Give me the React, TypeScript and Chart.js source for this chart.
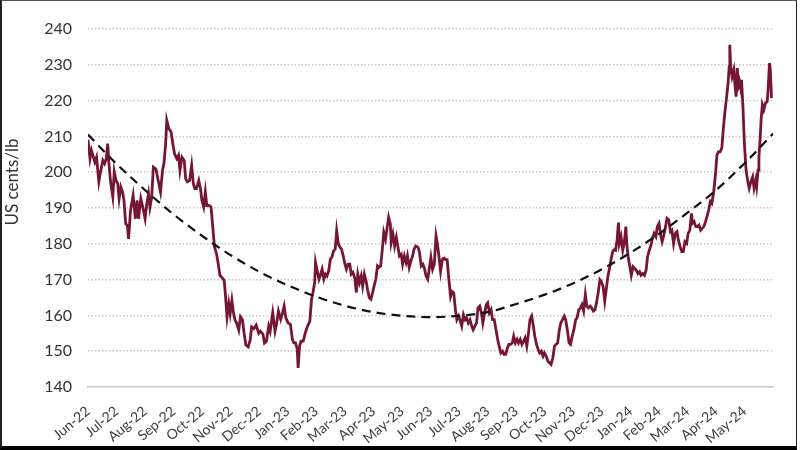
import { useEffect, useRef } from "react"
import { Chart, registerables } from "chart.js"

Chart.register(...registerables)

// Month tick labels, one per month starting Jun-22 (x = month index)
const monthLabels = [
  "Jun-22", "Jul-22", "Aug-22", "Sep-22", "Oct-22", "Nov-22", "Dec-22",
  "Jan-23", "Feb-23", "Mar-23", "Apr-23", "May-23", "Jun-23", "Jul-23",
  "Aug-23", "Sep-23", "Oct-23", "Nov-23", "Dec-23", "Jan-24", "Feb-24",
  "Mar-24", "Apr-24", "May-24",
]

const Y_TITLE = "US cents/lb"

// Price readings: [month position, US cents/lb]
const prices2022: [number, number][] = [
  [0.0, 209.1], [0.07, 203.8], [0.12, 206.1], [0.24, 202.8], [0.3, 204.2], [0.38, 197.3],
  [0.44, 200.1], [0.52, 203.3], [0.58, 202.4], [0.64, 203.8], [0.69, 208.0], [0.73, 202.8],
  [0.79, 197.3], [0.87, 193.1], [0.92, 200.1], [0.98, 197.7], [1.04, 196.8], [1.09, 192.6],
  [1.15, 195.9], [1.21, 194.5], [1.26, 192.1], [1.32, 185.6], [1.38, 185.1], [1.42, 181.4],
  [1.49, 189.3], [1.58, 193.5], [1.66, 187.0], [1.72, 192.1], [1.77, 187.0], [1.85, 192.6],
  [1.92, 190.2], [2.0, 187.0], [2.06, 191.2], [2.12, 194.0], [2.17, 190.2], [2.23, 193.0],
  [2.29, 201.4], [2.38, 200.9], [2.46, 197.7], [2.54, 194.5], [2.61, 200.5], [2.66, 202.4],
  [2.72, 208.0], [2.76, 214.5], [2.83, 212.2], [2.91, 211.2], [2.97, 208.0], [3.03, 205.2],
  [3.11, 203.8], [3.17, 204.7], [3.22, 200.5], [3.29, 204.2], [3.37, 203.3], [3.42, 198.2],
  [3.48, 197.3], [3.56, 197.7], [3.63, 201.9], [3.69, 196.8], [3.74, 195.4], [3.8, 195.4],
  [3.88, 197.7], [3.94, 195.4], [3.99, 192.1], [4.05, 190.3], [4.11, 194.5], [4.16, 190.7],
  [4.24, 190.7], [4.31, 190.3], [4.37, 184.7], [4.43, 179.1], [4.5, 177.3], [4.56, 174.5],
  [4.62, 171.2], [4.68, 170.7], [4.77, 169.8], [4.81, 166.1], [4.87, 159.6], [4.93, 163.3],
  [4.98, 160.5], [5.04, 164.2], [5.1, 160.5], [5.15, 158.7], [5.21, 157.8], [5.28, 155.9],
  [5.34, 159.6], [5.41, 158.7], [5.47, 154.9], [5.53, 151.7], [5.61, 151.2], [5.68, 153.1],
  [5.73, 156.8], [5.81, 156.3], [5.89, 157.3], [5.98, 155.0], [6.04, 155.6], [6.13, 154.7],
  [6.18, 152.3], [6.25, 152.8], [6.33, 157.0], [6.38, 155.6], [6.47, 160.7], [6.55, 155.6],
  [6.61, 157.9], [6.67, 161.2], [6.75, 158.9], [6.8, 160.3], [6.87, 162.6], [6.93, 159.3],
]

const prices2023: [number, number][] = [
  [7.01, 157.9], [7.09, 157.5], [7.16, 153.3], [7.21, 152.3], [7.27, 152.3], [7.33, 150.5],
  [7.36, 145.3], [7.41, 151.4], [7.46, 152.8], [7.54, 152.8], [7.61, 155.1], [7.69, 157.0],
  [7.77, 158.4], [7.83, 164.5], [7.88, 166.4], [7.94, 169.2], [7.97, 174.8], [8.03, 172.4],
  [8.09, 170.1], [8.15, 171.5], [8.2, 172.9], [8.26, 170.1], [8.32, 171.5], [8.37, 171.0],
  [8.43, 172.4], [8.49, 175.7], [8.54, 176.2], [8.6, 178.0], [8.66, 178.5], [8.71, 183.6],
  [8.77, 179.9], [8.83, 179.0], [8.88, 178.5], [8.94, 176.6], [9.0, 174.3], [9.05, 172.9],
  [9.11, 174.3], [9.17, 174.3], [9.22, 171.5], [9.28, 172.0], [9.34, 170.6], [9.4, 166.4],
  [9.45, 171.5], [9.51, 169.2], [9.57, 171.0], [9.62, 168.2], [9.68, 171.5], [9.74, 169.6],
  [9.79, 167.3], [9.85, 165.0], [9.91, 164.5], [9.97, 166.4], [10.02, 168.2], [10.08, 170.1],
  [10.14, 173.8], [10.19, 173.4], [10.25, 173.8], [10.31, 178.5], [10.36, 183.2], [10.42, 181.3],
  [10.48, 184.6], [10.53, 187.4], [10.59, 185.5], [10.62, 180.4], [10.68, 182.7], [10.74, 179.4],
  [10.8, 181.8], [10.85, 179.4], [10.91, 176.6], [10.97, 177.1], [11.02, 174.3], [11.08, 176.6],
  [11.14, 174.8], [11.19, 176.6], [11.25, 173.4], [11.31, 175.2], [11.37, 176.6], [11.42, 178.5],
  [11.48, 179.4], [11.56, 179.0], [11.61, 177.6], [11.67, 173.8], [11.73, 174.3], [11.79, 172.9],
  [11.84, 171.0], [11.9, 170.1], [11.96, 173.4], [12.01, 176.2], [12.07, 172.9], [12.13, 174.3],
  [12.19, 182.2], [12.24, 179.9], [12.3, 176.0], [12.35, 172.3], [12.41, 175.6], [12.47, 176.0],
  [12.53, 175.6], [12.58, 175.6], [12.64, 170.0], [12.7, 165.3], [12.75, 166.7], [12.81, 166.3],
  [12.87, 161.6], [12.92, 158.8], [12.98, 159.8], [13.04, 158.4], [13.09, 157.0], [13.15, 160.2],
  [13.21, 158.8], [13.26, 159.3], [13.32, 157.9], [13.38, 158.8], [13.44, 157.0], [13.49, 156.0],
  [13.55, 157.0], [13.61, 157.9], [13.66, 162.1], [13.72, 162.6], [13.78, 160.7], [13.83, 157.9],
  [13.89, 160.7], [13.95, 163.0], [14.0, 163.5], [14.06, 160.7], [14.12, 161.6], [14.17, 158.8],
  [14.23, 158.8], [14.29, 156.0], [14.35, 153.3], [14.4, 151.4], [14.46, 149.5], [14.52, 150.0],
  [14.57, 149.1], [14.63, 149.1], [14.69, 150.9], [14.74, 151.9], [14.8, 151.9], [14.86, 152.3],
  [14.91, 154.2], [14.97, 152.3], [15.03, 153.3], [15.08, 152.3], [15.14, 153.3], [15.2, 151.9],
  [15.26, 152.8], [15.31, 153.7], [15.37, 151.4], [15.43, 155.1], [15.48, 158.8], [15.54, 159.8],
  [15.6, 157.0], [15.65, 154.2], [15.71, 151.9], [15.77, 150.5], [15.82, 149.5], [15.88, 150.0],
  [15.94, 148.6], [15.99, 149.5], [16.05, 148.6], [16.11, 147.2], [16.17, 146.7], [16.22, 146.3],
  [16.28, 148.1], [16.34, 151.4], [16.39, 151.9], [16.45, 152.3], [16.51, 156.0], [16.56, 157.9],
  [16.62, 158.8], [16.68, 159.8], [16.73, 158.8], [16.79, 156.0], [16.85, 152.3], [16.9, 151.9],
  [16.96, 154.2], [17.02, 156.0], [17.08, 158.8], [17.13, 159.3], [17.19, 161.6], [17.25, 162.1],
  [17.3, 163.0], [17.36, 161.2], [17.42, 165.8], [17.47, 162.6], [17.53, 162.1], [17.59, 162.6],
  [17.64, 162.1], [17.7, 161.2], [17.76, 161.6], [17.81, 163.5], [17.87, 166.3], [17.93, 170.0],
  [17.98, 169.5], [18.04, 168.1], [18.1, 164.0], [18.15, 167.2], [18.21, 170.9], [18.27, 173.3],
  [18.32, 175.6], [18.38, 177.9], [18.44, 178.4], [18.48, 178.2], [18.53, 181.0],
]

const prices2024: [number, number][] = [
  [18.58, 185.9], [18.61, 180.1], [18.67, 182.0], [18.73, 178.2], [18.78, 180.1], [18.84, 184.8],
  [18.87, 180.1], [18.92, 176.4], [18.98, 173.6], [19.03, 171.2], [19.09, 173.6], [19.15, 173.1],
  [19.2, 172.7], [19.26, 171.7], [19.32, 172.2], [19.37, 171.2], [19.43, 171.7], [19.49, 171.2],
  [19.55, 172.7], [19.6, 176.4], [19.66, 178.2], [19.72, 179.6], [19.77, 181.5], [19.83, 182.9],
  [19.89, 182.0], [19.94, 184.8], [20.0, 185.7], [20.06, 182.4], [20.11, 180.6], [20.17, 182.4],
  [20.23, 184.8], [20.28, 187.1], [20.34, 186.7], [20.4, 183.4], [20.45, 183.8], [20.51, 180.1],
  [20.57, 182.9], [20.63, 183.4], [20.68, 181.0], [20.74, 179.2], [20.8, 177.8], [20.85, 177.8],
  [20.91, 180.6], [20.97, 180.1], [21.02, 182.9], [21.08, 183.8], [21.14, 188.5], [21.17, 185.7],
  [21.23, 186.2], [21.29, 184.8], [21.34, 184.8], [21.4, 185.2], [21.46, 183.8], [21.51, 184.3],
  [21.57, 184.8], [21.63, 186.2], [21.68, 187.6], [21.74, 189.4], [21.8, 191.8], [21.85, 191.3],
  [21.91, 194.1], [21.97, 198.7], [22.03, 204.8], [22.08, 205.7], [22.14, 205.7], [22.2, 206.7],
  [22.25, 211.8], [22.31, 216.9], [22.37, 221.1], [22.42, 224.9], [22.46, 229.5], [22.48, 235.6],
  [22.51, 229.5], [22.56, 226.7], [22.62, 228.6], [22.65, 225.3], [22.7, 221.1], [22.74, 229.1],
  [22.79, 224.4], [22.82, 225.3], [22.86, 223.5], [22.89, 225.8], [22.94, 218.3], [22.99, 208.1],
  [23.05, 200.6], [23.11, 197.4], [23.16, 195.5], [23.22, 197.4], [23.28, 198.7], [23.33, 195.5],
  [23.39, 197.8], [23.42, 196.0], [23.47, 200.6], [23.5, 204.3], [23.54, 209.0], [23.58, 215.1],
  [23.62, 218.8], [23.67, 217.4], [23.73, 219.3], [23.79, 219.7], [23.82, 223.0], [23.87, 230.5],
  [23.9, 228.6], [23.94, 220.7],
]

// Dashed trend line, read at each month (index = month position)
const trendValues = [
  210.5, 202.3, 195.0, 188.2, 182.2, 176.8, 172.2, 168.4, 165.2, 162.7, 160.9, 159.9, 159.5,
  159.9, 160.9, 163.2, 165.8, 169.0, 172.9, 177.5, 182.8, 188.7, 195.0, 202.5, 210.8,
]

const yTitlePlugin = {
  id: "yTitle",
  afterDraw(chart: Chart) {
    const ctx = chart.ctx
    ctx.save()
    ctx.translate(13, 182)
    ctx.rotate(-Math.PI / 2)
    ctx.font = "17px Lato"
    ctx.fillStyle = "#333333"
    ctx.textAlign = "center"
    ctx.textBaseline = "middle"
    ctx.fillText(Y_TITLE, 0, 0)
    ctx.restore()
  },
}

export default function App() {
  const chartRef = useRef<HTMLCanvasElement>(null)
  const chartInstance = useRef<Chart | null>(null)

  useEffect(() => {
    if (!chartRef.current) return
    if (chartInstance.current) chartInstance.current.destroy()

    const priceData = [...prices2022, ...prices2023, ...prices2024].map(([x, y]) => ({ x, y }))
    const trendData = trendValues.map((y, i) => ({ x: i, y }))

    const ctx = chartRef.current.getContext("2d")
    if (ctx) {
      chartInstance.current = new Chart(ctx, {
        type: "line",
        data: {
          datasets: [
            {
              label: "Trend",
              data: trendData,
              borderColor: "#111111",
              borderWidth: 2.2,
              borderDash: [9, 6],
              pointRadius: 0,
              cubicInterpolationMode: "monotone",
            },
            {
              label: "Price",
              data: priceData,
              borderColor: "#761636",
              borderWidth: 2.8,
              pointRadius: 0,
              tension: 0,
            },
          ],
        },
        options: {
          animation: false,
          responsive: true,
          maintainAspectRatio: false,
          layout: { padding: { left: 0, top: 29, right: 11, bottom: 0 } },
          plugins: { legend: { display: false }, tooltip: { enabled: false } },
          scales: {
            x: {
              type: "linear",
              min: 0,
              max: 24,
              grid: { display: false, drawTicks: false },
              border: { display: true, color: "#c9c9c9", width: 1.5 },
              afterFit: (scale: any) => {
                scale.height = 63
              },
              ticks: {
                stepSize: 1,
                autoSkip: false,
                includeBounds: false,
                minRotation: 40,
                maxRotation: 40,
                padding: 16,
                color: "#404040",
                font: { family: "Lato", size: 14 },
                callback: (v: any) => monthLabels[v] ?? "",
              },
            },
            y: {
              min: 140,
              max: 240,
              grid: {
                drawTicks: false,
                lineWidth: 1.5,
                color: (c: any) => (c.tick && c.tick.value === 140 ? "rgba(0,0,0,0)" : "#c8c8c8"),
              },
              border: { display: false, dash: [1.5, 2] },
              afterFit: (scale: any) => {
                scale.width = 88
              },
              ticks: {
                stepSize: 10,
                padding: 16,
                color: "#333333",
                font: { family: "Lato", size: 16 },
              },
            },
          },
        },
        plugins: [yTitlePlugin],
      })
    }

    return () => {
      if (chartInstance.current) {
        chartInstance.current.destroy()
        chartInstance.current = null
      }
    }
  }, [])

  return (
    <div style={{ position: "absolute", left: 0, top: 0, width: 800, height: 450, background: "#fff" }}>
      <canvas ref={chartRef} />
      <div
        style={{
          position: "absolute",
          left: 0,
          top: 0,
          width: 797,
          height: 450,
          boxSizing: "border-box",
          borderLeft: "2px solid #222",
          borderTop: "1px solid #555",
          borderRight: "1px solid #222",
          borderBottom: "4px solid #000",
          pointerEvents: "none",
        }}
      />
    </div>
  )
}
